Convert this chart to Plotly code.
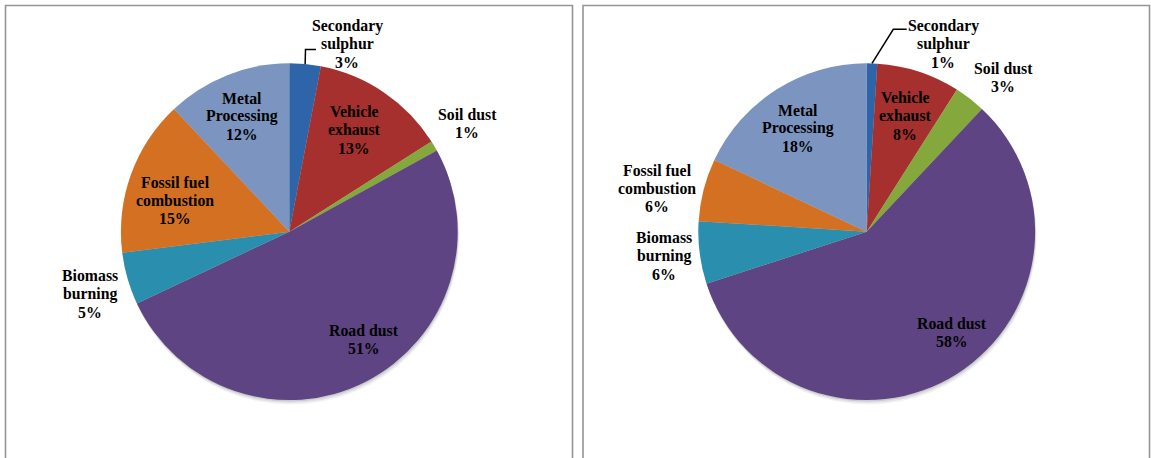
import math
import plotly.graph_objects as go

# Source apportionment shares (%), clockwise from 12 o'clock
categories = ["Secondary sulphur", "Vehicle exhaust", "Soil dust", "Road dust",
              "Biomass burning", "Fossil fuel combustion", "Metal Processing"]
label_lines = [["Secondary", "sulphur"], ["Vehicle", "exhaust"], ["Soil dust"], ["Road dust"],
               ["Biomass", "burning"], ["Fossil fuel", "combustion"], ["Metal", "Processing"]]
shares_left = [3, 13, 1, 51, 5, 15, 12]
shares_right = [1, 8, 3, 58, 6, 6, 18]

slice_colors = ["#2E64A8", "#A5302D", "#85A83C", "#5F4483", "#2A8FAE", "#D47022", "#7B95C0"]

W, H = 1151, 458
R = 168.4
CY = 231.7
centers_x = [289.3, 866.7]

# label text centre (first line) relative to the pie centre, in pixels
label_offsets = [
    [(57.7, -205.7), (64.7, -120.0), (177.7, -117.7), (74.7, 98.3),
     (-199.3, 44.0), (-114.3, -49.4), (-47.3, -133.4)],
    [(76.3, -205.7), (38.3, -134.0), (136.3, -163.4), (85.3, 91.6),
     (-202.7, 6.0), (-209.7, -61.7), (-68.7, -121.7)],
]
# leader line elbow / end for the small first slice, relative to the pie centre
leaders = [
    [(16.2, -182.2), (26.7, -182.2)],
    [(26.6, -202.4), (40.0, -202.4)],
]
LINE_STEP = 18.2
LABEL_FONT = dict(family="'Liberation Serif', 'Times New Roman', 'DejaVu Serif', serif",
                  size=15.8, color="black", weight="bold")
# soft drop shadow under each pie: (downward offset px, opacity)
SHADOW_LAYERS = [(4.5, 0.05), (3.0, 0.07), (1.5, 0.09)]


def px(x):
    return x / W


def py(y):
    return 1 - y / H


fig = go.Figure()
annotations = []
shapes = []

for k, shares in enumerate([shares_left, shares_right]):
    cx = centers_x[k]
    for off, alpha in SHADOW_LAYERS:
        fig.add_trace(go.Pie(
            values=[1], labels=["shadow"], sort=False, textinfo="none", hoverinfo="skip",
            marker=dict(colors=[f"rgba(0,0,0,{alpha})"], line=dict(width=0)),
            domain=dict(x=[px(cx - R + off / 3), px(cx + R + off / 3)],
                        y=[py(CY + R + off), py(CY - R + off)]),
            showlegend=False,
        ))
    fig.add_trace(go.Pie(
        values=shares,
        labels=categories,
        sort=False,
        direction="clockwise",
        rotation=0,
        textinfo="none",
        marker=dict(colors=slice_colors, line=dict(width=0)),
        domain=dict(x=[px(cx - R), px(cx + R)], y=[py(CY + R), py(CY - R)]),
        showlegend=False,
    ))
    total = sum(shares)
    for i, (name_lines, v) in enumerate(zip(label_lines, shares)):
        dx, dy = label_offsets[k][i]
        lines = name_lines + [f"{v}%"]
        for j, t in enumerate(lines):
            annotations.append(dict(
                x=px(cx + dx), y=py(CY + dy + j * LINE_STEP), xref="paper", yref="paper",
                text=t, showarrow=False, xanchor="center", yanchor="middle",
                font=LABEL_FONT,
            ))
    # leader line from the outer edge of the first slice
    mid = shares[0] / 2 / total * 2 * math.pi
    sx, sy = cx + R * math.sin(mid), CY - R * math.cos(mid)
    (ex, ey), (fx, fy) = leaders[k]
    shapes.append(dict(
        type="path", xref="paper", yref="paper",
        path=f"M {px(sx)} {py(sy)} L {px(cx + ex)} {py(CY + ey)} L {px(cx + fx)} {py(CY + fy)}",
        line=dict(color="black", width=1.5),
    ))

# panel frames
for x0, x1 in [(5.5, 572.5), (583.0, 1149.5)]:
    shapes.append(dict(type="rect", xref="paper", yref="paper",
                       x0=px(x0), x1=px(x1), y0=py(470), y1=py(5.5),
                       line=dict(color="#959595", width=1.6)))

fig.update_layout(
    width=W, height=H, autosize=False,
    margin=dict(l=0, r=0, t=0, b=0),
    paper_bgcolor="white", plot_bgcolor="white",
    annotations=annotations, shapes=shapes,
)

fig.write_html("out.html")
